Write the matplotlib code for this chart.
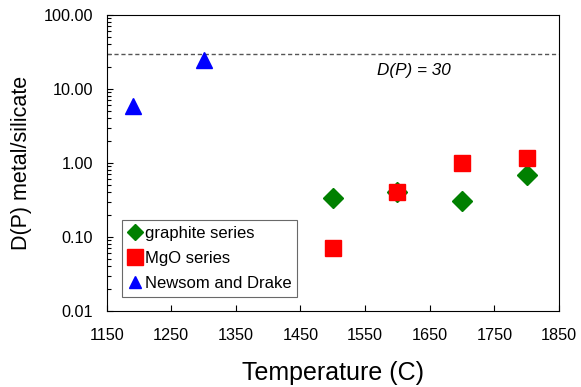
import matplotlib
matplotlib.use("Agg")
import matplotlib.pyplot as plt
from matplotlib.ticker import LogLocator, FixedLocator, FuncFormatter, NullFormatter

plt.rcParams['font.family'] = ['Liberation Sans', 'DejaVu Sans']

graphite_T = [1500, 1600, 1700, 1800]
graphite_D = [0.34, 0.41, 0.31, 0.69]
mgo_T = [1500, 1600, 1700, 1800]
mgo_D = [0.071, 0.40, 1.01, 1.16]
nd_T = [1190, 1300]
nd_D = [5.9, 24.5]
dp_line = 30
x_ticks = [1150, 1250, 1350, 1450, 1550, 1650, 1750, 1850]
y_ticks = [0.01, 0.1, 1, 10, 100]

fig = plt.figure(figsize=(5.81, 3.87), dpi=100)
ax = fig.add_axes([0.1836, 0.1964, 0.7784, 0.7648])

ax.plot(graphite_T, graphite_D, linestyle='none', marker='D', color='#008000', markersize=10, label='graphite series', zorder=3)
ax.plot(mgo_T, mgo_D, linestyle='none', marker='s', color='#ff0000', markersize=11, label='MgO series', zorder=4)
ax.plot(nd_T, nd_D, linestyle='none', marker='^', color='#0000ff', markersize=11, label='Newsom and Drake', zorder=3)

ax.axhline(dp_line, color='#555555', linestyle=(0, (3, 2)), linewidth=1)
ax.text(1626, 18, 'D(P) = 30', fontsize=12.3, style='italic', ha='center', va='center')

ax.set_yscale('log')
ax.set_ylim(0.01, 100)
ax.set_xlim(1150, 1850)
ax.xaxis.set_major_locator(FixedLocator(x_ticks))
ax.yaxis.set_major_locator(FixedLocator(y_ticks))
ax.yaxis.set_major_formatter(FuncFormatter(lambda v, p: f'{v:.2f}'))
ax.yaxis.set_minor_locator(LogLocator(base=10, subs=range(2, 10)))
ax.yaxis.set_minor_formatter(NullFormatter())
ax.tick_params(axis='both', which='major', direction='in', length=4, labelsize=11.7, width=0.8)
ax.tick_params(axis='y', which='minor', direction='in', length=3, width=0.8)
ax.tick_params(axis='x', pad=12)
ax.tick_params(axis='y', pad=10)

ax.set_xlabel('Temperature (C)', fontsize=18, labelpad=13)
ax.set_ylabel('D(P) metal/silicate', fontsize=15.5, labelpad=8)

leg = ax.legend(loc='lower left', bbox_to_anchor=(0.034, 0.047), fontsize=12, frameon=True, fancybox=False,
                edgecolor='#444444', handlelength=0.9, handletextpad=0.1, borderpad=0.35, labelspacing=0.6,
                borderaxespad=0)
leg.get_frame().set_linewidth(0.8)
for h, ms in zip(leg.legend_handles, [8, 11, 9]):
    h.set_markersize(ms)

fig.savefig('out.png', dpi=100)
